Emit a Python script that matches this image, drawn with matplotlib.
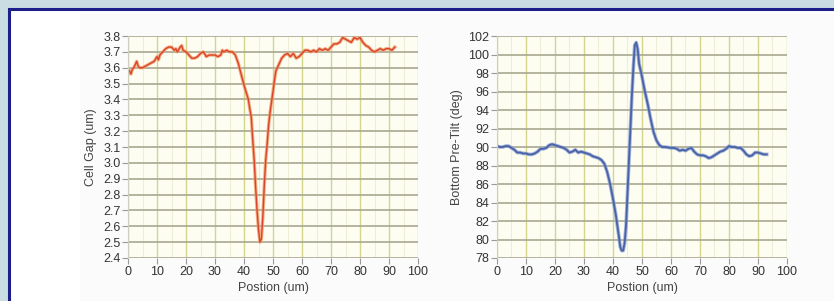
import numpy as np
import matplotlib.pyplot as plt
from matplotlib.patches import Rectangle

# cell gap trace (left panel)
gap_x = [0, 0.5, 1, 1.5, 2, 2.5, 3, 3.5, 4, 5, 6, 7, 8, 9, 10, 10.5, 11, 12, 13, 14, 15,
         16, 16.5, 17, 18, 18.5, 19, 20, 21, 22, 23, 24, 25, 26, 27, 28, 29, 30, 31, 32,
         32.5, 33, 34, 35, 36, 37, 38, 39, 40, 41, 41.5, 42, 42.5, 43, 43.5, 44, 44.5,
         45, 45.5, 46, 46.5, 47, 47.5, 48, 48.5, 49, 50, 50.5, 51, 52, 53, 54, 55, 56,
         57, 58, 59, 60, 61, 62, 63, 64, 65, 66, 67, 68, 69, 70, 71, 72, 73, 74, 75, 76,
         77, 78, 79, 80, 81, 82, 83, 84, 85, 86, 87, 88, 89, 90, 91, 92]
gap_y = [3.59, 3.58, 3.56, 3.59, 3.60, 3.62, 3.64, 3.61, 3.60, 3.60, 3.61, 3.62, 3.63,
         3.64, 3.67, 3.65, 3.68, 3.70, 3.72, 3.73, 3.73, 3.71, 3.72, 3.70, 3.73, 3.74,
         3.71, 3.70, 3.68, 3.66, 3.66, 3.67, 3.69, 3.70, 3.67, 3.68, 3.68, 3.68, 3.67,
         3.68, 3.71, 3.70, 3.71, 3.70, 3.70, 3.68, 3.63, 3.56, 3.49, 3.43, 3.40, 3.34,
         3.29, 3.15, 3.02, 2.85, 2.70, 2.58, 2.50, 2.52, 2.66, 2.86, 3.02, 3.12, 3.24,
         3.32, 3.45, 3.52, 3.58, 3.62, 3.66, 3.68, 3.69, 3.67, 3.69, 3.66, 3.67, 3.69,
         3.71, 3.71, 3.70, 3.71, 3.70, 3.72, 3.71, 3.72, 3.71, 3.73, 3.75, 3.75, 3.76,
         3.79, 3.78, 3.77, 3.76, 3.79, 3.78, 3.79, 3.76, 3.74, 3.73, 3.71, 3.70, 3.71,
         3.72, 3.71, 3.72, 3.72, 3.71, 3.73]

# bottom pre-tilt trace (right panel)
tilt_x = [0, 1, 2, 3, 4, 5, 6, 7, 8, 9, 10, 11, 12, 13, 14, 15, 16, 17, 18, 19, 20, 21,
          22, 23, 24, 25, 26, 27, 28, 29, 30, 31, 32, 33, 34, 35, 36, 37, 38, 39, 40, 41,
          42, 42.5, 43, 43.5, 44, 44.5, 45, 45.5, 46, 46.5, 47, 47.5, 48, 48.5, 49, 50,
          51, 52, 53, 54, 55, 56, 57, 58, 60, 61, 62, 63, 64, 65, 66, 67, 68, 69, 70, 71,
          72, 73, 74, 75, 76, 77, 78, 79, 80, 81, 82, 83, 84, 85, 86, 87, 88, 89, 90, 91,
          92, 93]
tilt_y = [90.1, 90.0, 90.0, 90.1, 90.1, 89.9, 89.7, 89.4, 89.4, 89.3, 89.3, 89.2, 89.2,
          89.3, 89.5, 89.8, 89.8, 89.9, 90.2, 90.3, 90.2, 90.1, 90.0, 89.9, 89.7, 89.4,
          89.5, 89.7, 89.4, 89.5, 89.4, 89.3, 89.2, 89.0, 88.9, 88.8, 88.6, 88.2, 87.3,
          86.0, 84.4, 82.6, 80.4, 79.2, 78.8, 78.8, 79.6, 81.5, 85.0, 88.5, 92.0, 95.5,
          98.5, 101.0, 101.3, 100.6, 99.0, 97.6, 96.0, 94.6, 93.0, 91.6, 90.7, 90.2, 90.0,
          90.0, 89.9, 89.9, 89.8, 89.6, 89.7, 89.6, 89.8, 89.9, 89.5, 89.2, 89.1, 89.1,
          89.0, 88.8, 88.9, 89.1, 89.3, 89.5, 89.6, 89.8, 90.1, 90.0, 90.0, 89.9, 89.9,
          89.6, 89.2, 89.0, 89.1, 89.4, 89.4, 89.3, 89.2, 89.2]

x_ticks = np.arange(0, 101, 10)
gap_ticks = np.round(np.arange(2.4, 3.81, 0.1), 1)
tilt_ticks = np.arange(78, 103, 2)

plt.rcParams['font.family'] = ['Liberation Sans', 'DejaVu Sans']

fig = plt.figure(figsize=(8.34, 3.01), dpi=100, facecolor='#c9dde2')
fig.patches.append(Rectangle((9 / 834, -0.05), 1.0, 1 - 9 / 301 + 0.05,
                             transform=fig.transFigure, facecolor='white',
                             edgecolor='#1c1f8a', linewidth=2.2, zorder=-2))
fig.patches.append(Rectangle((80 / 834, -0.05), 1.0, 1 - 14 / 301 + 0.05,
                             transform=fig.transFigure, facecolor='#fbfbfb',
                             edgecolor='none', zorder=-1))


def style(ax, yticks, ylabel, fmt):
    ax.set_facecolor('#fdfdf2')
    ax.set_xlim(0, 100)
    ax.set_ylim(yticks[0], yticks[-1])
    ax.set_xticks(x_ticks)
    ax.set_yticks(yticks)
    ax.set_yticklabels([fmt.format(v) for v in yticks])
    ax.set_xticks(np.arange(5, 100, 10), minor=True)
    ax.grid(True, axis='x', which='major', color='#d4d68c', linewidth=1.0)
    ax.grid(True, axis='x', which='minor', color='#eeeed6', linewidth=0.8)
    ax.grid(True, axis='y', which='major', color='#aeae98', linewidth=1.3)
    ax.set_axisbelow(True)
    for s in ax.spines.values():
        s.set_visible(False)
    ax.spines['left'].set_visible(True)
    ax.spines['left'].set_color('#cfcfc0')
    ax.tick_params(which='major', length=4, width=0.8, color='#9a9a9a',
                   labelsize=9, labelcolor='#333333', pad=1.5)
    ax.tick_params(which='minor', length=0)
    ax.set_ylabel(ylabel, fontsize=9, color='#444444', labelpad=4)
    ax.set_xlabel('Postion (um)', fontsize=9, color='#444444', labelpad=3)


ax1 = fig.add_axes([128 / 834, 43 / 301, 290 / 834, 222 / 301])
style(ax1, gap_ticks, 'Cell Gap (um)', '{:.1f}')
ax1.plot(gap_x, gap_y, color='#f29a6a', linewidth=2.4, alpha=0.8)
ax1.plot(gap_x, gap_y, color='#d9452a', linewidth=1.0)

ax2 = fig.add_axes([497 / 834, 43 / 301, 290 / 834, 222 / 301])
style(ax2, tilt_ticks, 'Bottom Pre-Tilt (deg)', '{:d}')
ax2.plot(tilt_x, tilt_y, color='#8aa0d0', linewidth=2.6, alpha=0.8)
ax2.plot(tilt_x, tilt_y, color='#4a62a8', linewidth=1.3)

fig.savefig('out.png', dpi=100, facecolor=fig.get_facecolor())
